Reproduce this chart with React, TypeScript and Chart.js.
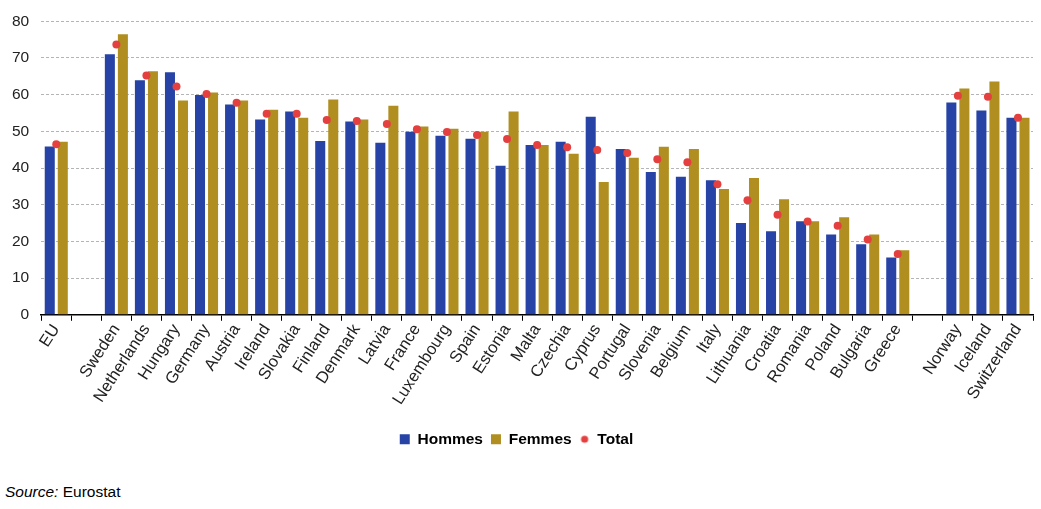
import { useEffect, useRef } from 'react'
import { Chart, registerables } from 'chart.js'

Chart.register(...registerables)

const countries = [
  'EU', '', 'Sweden', 'Netherlands', 'Hungary', 'Germany', 'Austria', 'Ireland', 'Slovakia',
  'Finland', 'Denmark', 'Latvia', 'France', 'Luxembourg', 'Spain', 'Estonia', 'Malta',
  'Czechia', 'Cyprus', 'Portugal', 'Slovenia', 'Belgium', 'Italy', 'Lithuania', 'Croatia',
  'Romania', 'Poland', 'Bulgaria', 'Greece', '', 'Norway', 'Iceland', 'Switzerland',
]

const hommes = [
  45.9, null, 71.0, 63.9, 66.1, 59.9, 57.3, 53.2, 55.4,
  47.4, 52.7, 46.9, 49.9, 48.8, 48.0, 40.6, 46.3,
  47.2, 54.0, 45.2, 38.9, 37.6, 36.7, 25.0, 22.8,
  25.5, 21.9, 19.2, 15.6, null, 57.9, 55.7, 53.7,
]

const femmes = [
  47.2, null, 76.5, 66.4, 58.4, 60.6, 58.4, 55.9, 53.7,
  58.7, 53.2, 57.0, 51.3, 50.7, 49.9, 55.4, 46.3,
  43.9, 36.2, 42.8, 45.8, 45.2, 34.3, 37.3, 31.5,
  25.5, 26.6, 21.9, 17.6, null, 61.7, 63.6, 53.7,
]

const total = [
  46.5, null, 73.7, 65.2, 62.2, 60.2, 57.8, 54.8, 54.8,
  53.1, 52.8, 52.0, 50.6, 49.8, 49.0, 47.9, 46.3,
  45.7, 44.9, 44.1, 42.4, 41.6, 35.6, 31.2, 27.3,
  25.4, 24.3, 20.5, 16.6, null, 59.7, 59.4, 53.7,
]

const C = {
  blue: '#2743A6',
  gold: '#B08F20',
  red: '#E3403F',
  grid: '#B4B4B4',
  text: '#222222',
}

const FONT = "'Liberation Sans', Arial, sans-serif"

function dotImage() {
  const c = document.createElement('canvas')
  c.width = 10
  c.height = 10
  const g = c.getContext('2d')!
  g.fillStyle = C.red
  g.beginPath()
  g.arc(5, 5, 3.6, 0, Math.PI * 2)
  g.fill()
  return c
}

function EmploymentChart() {
  const canvasRef = useRef<HTMLCanvasElement>(null)
  const chartRef = useRef<Chart | null>(null)

  useEffect(() => {
    if (!canvasRef.current) return
    if (chartRef.current) { chartRef.current.destroy(); chartRef.current = null }
    const dot = dotImage()

    chartRef.current = new Chart(canvasRef.current, {
      type: 'bar',
      data: {
        labels: countries,
        datasets: [
          {
            type: 'line',
            label: 'Total',
            data: total,
            showLine: false,
            pointRadius: 4,
            pointHoverRadius: 4,
            pointBackgroundColor: C.red,
            pointBorderWidth: 0,
            borderColor: C.red,
            backgroundColor: C.red,
            pointStyle: 'circle',
            order: 0,
          } as any,
          {
            label: 'Hommes',
            data: hommes,
            backgroundColor: C.blue,
            categoryPercentage: 0.867,
            barPercentage: 0.77,
            pointStyle: 'rect',
            order: 1,
          },
          {
            label: 'Femmes',
            data: femmes,
            backgroundColor: C.gold,
            categoryPercentage: 0.867,
            barPercentage: 0.77,
            pointStyle: 'rect',
            order: 1,
          },
        ],
      },
      options: {
        responsive: true,
        maintainAspectRatio: false,
        animation: false,
        layout: { padding: { top: 16, left: 0, right: 8, bottom: 0 } },
        plugins: {
          tooltip: { enabled: false },
          legend: {
            position: 'bottom',
            labels: {
              usePointStyle: true,
              boxHeight: 10,
              boxWidth: 10,
              padding: 8,
              color: '#000',
              font: { family: FONT, size: 15.5, weight: 'bold' },
              generateLabels: (chart: Chart) => {
                const items = Chart.defaults.plugins.legend.labels.generateLabels(chart)
                const order = ['Hommes', 'Femmes', 'Total']
                items.forEach(it => { if (it.text === 'Total') it.pointStyle = dot as any })
                return items.sort((a, b) => order.indexOf(a.text) - order.indexOf(b.text))
              },
            },
          },
        },
        scales: {
          x: {
            grid: { offset: true, drawOnChartArea: false, color: '#000', tickLength: 6 },
            border: { color: '#000', width: 1.5 },
            ticks: {
              color: C.text,
              font: { family: FONT, size: 16.5 },
              minRotation: 57,
              maxRotation: 57,
              autoSkip: false,
              padding: 0,
            },
            afterFit: (scale: any) => { scale.height += 15 },
          },
          y: {
            min: 0,
            max: 80,
            ticks: { stepSize: 10, color: C.text, font: { family: FONT, size: 15.5 }, padding: 12 },
            grid: { color: C.grid, drawTicks: false },
            border: { display: false, dash: [3, 2] },
          },
        },
      },
    })

    return () => { chartRef.current?.destroy(); chartRef.current = null }
  }, [])

  return <canvas ref={canvasRef} />
}

export default function App() {
  return (
    <div style={{ position: 'fixed', left: 0, top: 0, width: 1041, height: 509, background: '#fff' }}>
      <div style={{ position: 'absolute', left: 0, top: 0, width: 1041, height: 457 }}>
        <EmploymentChart />
      </div>
      <div style={{ position: 'absolute', left: 5, top: 483, fontFamily: FONT, fontSize: 15.5, color: '#000' }}>
        <i>Source:</i> Eurostat
      </div>
    </div>
  )
}
